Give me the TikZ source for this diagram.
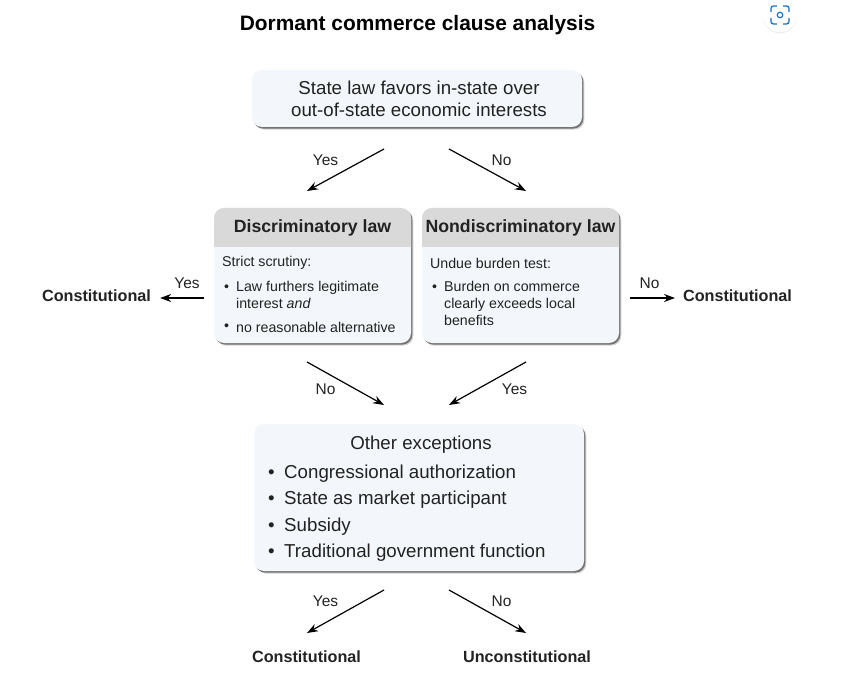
\documentclass[tikz,border=0pt]{standalone}
\usepackage{fontspec}
\setmainfont{Liberation Sans}
\usetikzlibrary{positioning,arrows.meta,shadows,calc}
\definecolor{cardbg}{HTML}{F3F6FA}
\definecolor{headbg}{HTML}{D9D9D9}
\definecolor{inktext}{HTML}{222222}
\definecolor{lensblue}{HTML}{1A73C8}

\begin{document}
\begin{tikzpicture}[x=1pt, y=-1pt,
  card/.style={fill=cardbg, rounded corners=10pt, inner sep=0pt, outer sep=0pt,
               drop shadow={shadow xshift=2.4pt, shadow yshift=-2.6pt, fill=black, opacity=0.18},
               drop shadow={shadow xshift=1.3pt, shadow yshift=-1.6pt, fill=black, opacity=0.45}},
  big/.style={font=\fontsize{18.7}{24}\selectfont, text=inktext, align=center, inner sep=0pt},
  bigitem/.style={font=\fontsize{18.7}{24}\selectfont, text=inktext, anchor=west, inner sep=0pt},
  head/.style={font=\bfseries\fontsize{17.7}{20}\selectfont, text=inktext, inner sep=0pt},
  small/.style={font=\fontsize{14.2}{17}\selectfont, text=inktext, align=left, anchor=west, inner sep=0pt},
  verdict/.style={font=\bfseries\fontsize{16.2}{18}\selectfont, text=inktext, inner sep=0pt},
  lab/.style={font=\fontsize{15.5}{18}\selectfont, text=inktext, inner sep=0pt},
  arr/.style={-{Stealth[length=11pt, width=8pt]}, line width=1.2pt, draw=black}]
\useasboundingbox (0,0) rectangle (847,674);
\node[font=\bfseries\fontsize{20.9}{24}\selectfont, inner sep=0pt] (title) at (417.5,25.5) {Dormant commerce clause analysis};
% search lens button
\node[circle, fill=white, minimum size=34pt, inner sep=0pt,
      drop shadow={shadow xshift=0pt, shadow yshift=-1.5pt, fill=black, opacity=0.06}] (lens) at (780,15) {};
\node[circle, draw=lensblue, line width=1.2pt, minimum size=5.5pt, inner sep=0pt] (lenseye) at (lens) {};
\draw[lensblue, line width=1.3pt, rounded corners=2.5pt]
  ($(lens)+(-9,-3)$) -- ($(lens)+(-9,-9)$) -- ($(lens)+(-3,-9)$)
  ($(lens)+(3,-9)$) -- ($(lens)+(9,-9)$) -- ($(lens)+(9,-3)$)
  ($(lens)+(9,3)$) -- ($(lens)+(9,9)$) -- ($(lens)+(3,9)$)
  ($(lens)+(-3,9)$) -- ($(lens)+(-9,9)$) -- ($(lens)+(-9,3)$);

% boxes
\node[card, minimum width=330pt, minimum height=57pt] (top) at (417,98.5) {};
\node[big] (toptext) at (419,98.5) {State law favors in-state over\\[-2pt]out-of-state economic interests};
\node[card, minimum width=197pt, minimum height=135pt, below=81pt of top, xshift=-104.5pt] (disc) {};
\node[card, minimum width=197pt, minimum height=135pt, right=11pt of disc] (nondisc) {};
\node[card, minimum width=330pt, minimum height=147pt, below=81pt of disc, xshift=106.5pt] (other) {};

% grey heads of the two cards
\fill[headbg] (disc.north west) ++(0,39) coordinate (discsplit)
  [rounded corners=10pt] -- (disc.north west) -- (disc.north east) [sharp corners] -- (disc.east |- discsplit) -- cycle;
\fill[headbg] (nondisc.north west) ++(0,39) coordinate (nondiscsplit)
  [rounded corners=10pt] -- (nondisc.north west) -- (nondisc.north east) [sharp corners] -- (nondisc.east |- nondiscsplit) -- cycle;
\node[head] (dischead) at (312.5,227.5) {Discriminatory law};
\node[head] (nondischead) at (520.5,227.5) {Nondiscriminatory law};

\node[small] (strict) at (222,263) {Strict scrutiny:};
\node[small] (discdotA) at (224,288) {•};
\node[small, anchor=north west] (discitemA) at (236,281) {Law furthers legitimate\\interest \textit{and}};
\node[small] (discdotB) at (224,327.5) {•};
\node[small] (discitemB) at (236,327.5) {no reasonable alternative};

\node[small] (undue) at (430,263) {Undue burden test:};
\node[small] (nondiscdot) at (432,288) {•};
\node[small, anchor=north west] (nondiscitem) at (444,281) {Burden on commerce\\clearly exceeds local\\benefits};

\node[big] (otherhead) at (421,445) {Other exceptions};
\node[bigitem] (otherA) at (268,473.7) {•\hspace{9.5pt}Congressional authorization};
\node[bigitem] (otherB) at (268,500) {•\hspace{9.5pt}State as market participant};
\node[bigitem] (otherC) at (268,526.7) {•\hspace{9.5pt}Subsidy};
\node[bigitem] (otherD) at (268,553) {•\hspace{9.5pt}Traditional government function};

% verdicts
\node[verdict] (constleft) at (96.5,295.5) {Constitutional};
\node[verdict] (constright) at (737.5,295.5) {Constitutional};
\node[verdict] (constbottom) at (306.5,656.5) {Constitutional};
\node[verdict] (unconst) at (527,656.5) {Unconstitutional};

% free arrow ends
\coordinate (yesfrom) at (384,149);
\coordinate (yesto) at (307,191);
\coordinate (nofrom) at (449,149);
\coordinate (noto) at (526,191);
\coordinate (strictfrom) at (204,298);
\coordinate (undueto) at (675,298);
\coordinate (underfrom) at (630,298);
\coordinate (mergeleftfrom) at (307,362);
\coordinate (mergeleftto) at (384,405);
\coordinate (mergerightfrom) at (526,362);
\coordinate (mergerightto) at (449,405);
\coordinate (lastyesfrom) at (384,590);
\coordinate (lastyesto) at (307,633);
\coordinate (lastnofrom) at (449,590);
\coordinate (lastnoto) at (526,633);

\draw[arr] (yesfrom) -- node[lab, xshift=-20pt, yshift=10pt]{Yes} (yesto);
\draw[arr] (nofrom) -- node[lab, xshift=14pt, yshift=10pt]{No} (noto);
\draw[arr] (strictfrom) -- node[lab, xshift=5pt, yshift=15pt]{Yes} ($(constleft.east)+(9,2.5)$);
\draw[arr] (underfrom) -- node[lab, xshift=-3pt, yshift=15pt]{No} (undueto);
\draw[arr] (mergeleftfrom) -- node[lab, xshift=-20pt, yshift=-6pt]{No} (mergeleftto);
\draw[arr] (mergerightfrom) -- node[lab, xshift=27pt, yshift=-6pt]{Yes} (mergerightto);
\draw[arr] (lastyesfrom) -- node[lab, xshift=-20pt, yshift=10pt]{Yes} (lastyesto);
\draw[arr] (lastnofrom) -- node[lab, xshift=14pt, yshift=10pt]{No} (lastnoto);
\end{tikzpicture}
\end{document}
